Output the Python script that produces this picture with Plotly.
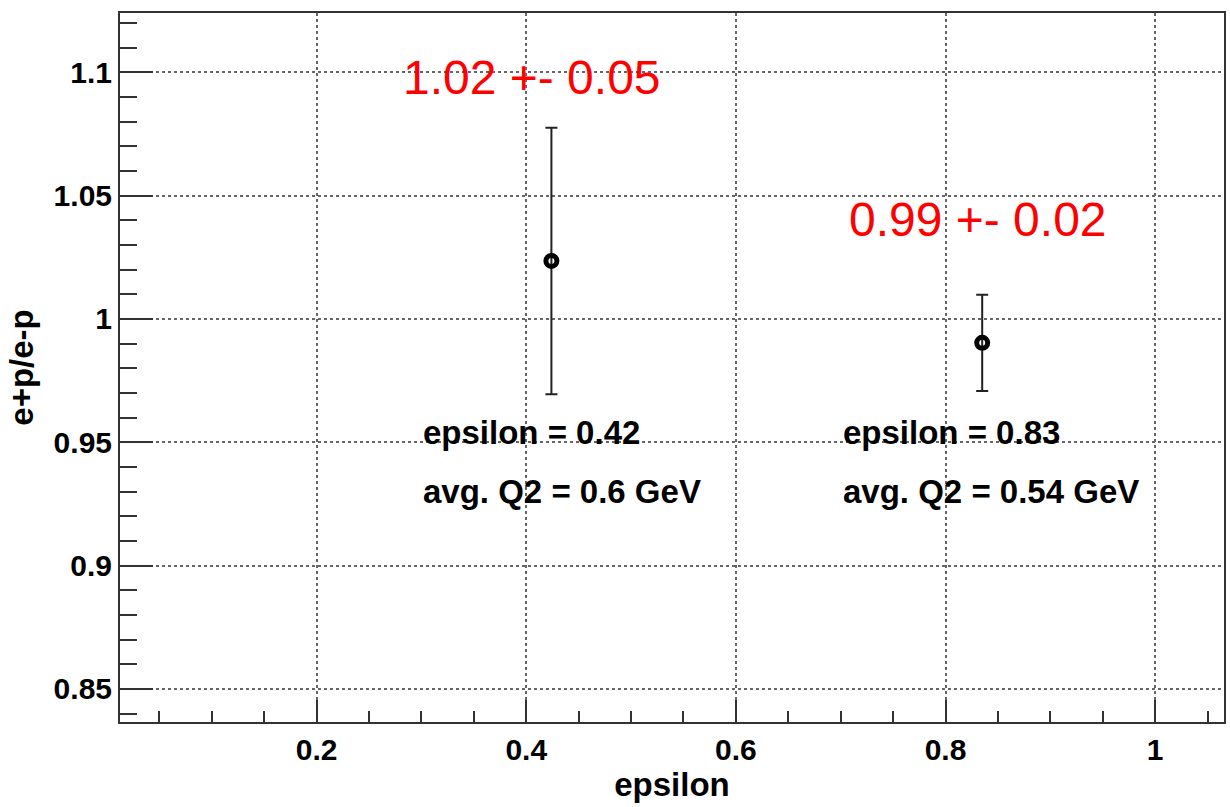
import plotly.graph_objects as go

# Data
epsilon = [0.424, 0.835]
ratio = [1.0235, 0.9903]
ratio_err = [0.054, 0.0195]

x_ticks = [0.2, 0.4, 0.6, 0.8, 1.0]
y_ticks = [0.85, 0.9, 0.95, 1.0, 1.05, 1.1]

red_labels = ["1.02 +- 0.05", "0.99 +- 0.02"]
red_x = [0.405, 0.831]
red_y = [1.098, 1.0401]

info_eps = ["epsilon = 0.42", "epsilon = 0.83"]
info_q2 = ["avg. Q2 = 0.6 GeV", "avg. Q2 = 0.54 GeV"]
info_x = [0.3, 0.7]
info_y1 = 0.954
info_y2 = 0.930

FONT = "Liberation Sans, Arial, sans-serif"

fig = go.Figure()
fig.add_trace(go.Scatter(
    x=epsilon, y=ratio, mode="markers",
    marker=dict(symbol="circle-open", size=11, color="black", line=dict(width=5, color="black")),
    error_y=dict(type="data", array=ratio_err, visible=True, color="#222", thickness=2, width=6),
    showlegend=False,
))

for t, x, y in zip(red_labels, red_x, red_y):
    fig.add_annotation(x=x, y=y, xref="x", yref="y", text=t, showarrow=False,
                       font=dict(family=FONT, size=48, color="#ff0000"),
                       xanchor="center", yanchor="middle")

for t1, t2, x in zip(info_eps, info_q2, info_x):
    fig.add_annotation(x=x, y=info_y1, xref="x", yref="y", text=t1, showarrow=False,
                       font=dict(family=FONT, size=33, color="black", weight="bold"),
                       xanchor="left", yanchor="middle")
    fig.add_annotation(x=x, y=info_y2, xref="x", yref="y", text=t2, showarrow=False,
                       font=dict(family=FONT, size=33, color="black", weight="bold"),
                       xanchor="left", yanchor="middle")

axis_common = dict(
    showline=True, linecolor="#333", linewidth=2, mirror=True,
    ticks="inside", tickcolor="#333", tickwidth=2,
    showgrid=True, gridcolor="#666", griddash="dot", gridwidth=1.5,
    zeroline=False,
    tickfont=dict(family=FONT, size=30, color="black", weight="bold"),
)

fig.update_xaxes(
    **axis_common,
    range=[0.0124, 1.0657], tickvals=x_ticks, ticklen=22,
    minor=dict(dtick=0.05, tick0=0, ticks="inside", ticklen=11, tickcolor="#333", tickwidth=2, showgrid=False),
    title=dict(text="epsilon", font=dict(family=FONT, size=33, color="black", weight="bold"), standoff=4),
)
fig.update_yaxes(
    **axis_common,
    range=[0.8366, 1.124], tickvals=y_ticks, ticklen=33,
    minor=dict(dtick=0.01, tick0=0, ticks="inside", ticklen=17, tickcolor="#333", tickwidth=2, showgrid=False),
    title=dict(text="e+p/e-p", font=dict(family=FONT, size=33, color="black", weight="bold"), standoff=10),
)

fig.update_layout(
    width=1230, height=807,
    margin=dict(l=120, r=4, t=13, b=85),
    paper_bgcolor="white", plot_bgcolor="white",
    showlegend=False,
)

fig.write_html("out.html", config={"displayModeBar": False},
               post_script="document.body.style.margin='0px';")
